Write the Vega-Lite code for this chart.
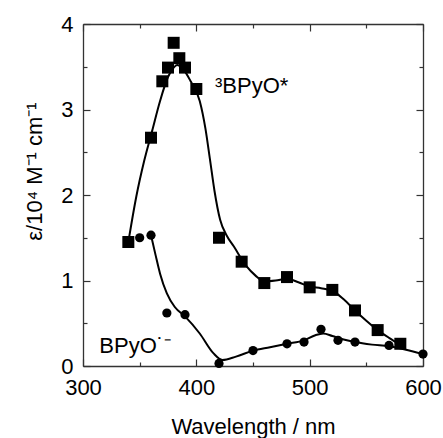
{
  "$schema": "https://vega.github.io/schema/vega-lite/v6.json",
  "width": 340,
  "height": 342,
  "autosize": "none",
  "padding": {"left": 83, "top": 24, "right": 20, "bottom": 72},
  "background": "white",
  "config": {
    "font": "Liberation Sans",
    "view": {"stroke": null},
    "axis": {
      "grid": false,
      "domainColor": "#333333",
      "domainWidth": 1.3,
      "tickColor": "#333333",
      "tickWidth": 1.2,
      "labelFont": "Liberation Sans",
      "labelFontSize": 22,
      "labelColor": "black",
      "labelFlush": false,
      "labelOverlap": false,
      "titleFont": "Liberation Sans",
      "titleFontSize": 22,
      "titleFontWeight": "normal",
      "titleColor": "black"
    }
  },
  "datasets": {
    "squares": [
      {"wl": 340, "eps": 1.45},
      {"wl": 360, "eps": 2.67},
      {"wl": 370, "eps": 3.33},
      {"wl": 375, "eps": 3.49},
      {"wl": 380, "eps": 3.78},
      {"wl": 385, "eps": 3.60},
      {"wl": 390, "eps": 3.49},
      {"wl": 400, "eps": 3.24},
      {"wl": 420, "eps": 1.50},
      {"wl": 440, "eps": 1.22},
      {"wl": 460, "eps": 0.97},
      {"wl": 480, "eps": 1.04},
      {"wl": 500, "eps": 0.92},
      {"wl": 520, "eps": 0.89},
      {"wl": 540, "eps": 0.65},
      {"wl": 560, "eps": 0.42},
      {"wl": 580, "eps": 0.26}
    ],
    "circles": [
      {"wl": 350, "eps": 1.50},
      {"wl": 360, "eps": 1.53},
      {"wl": 374, "eps": 0.62},
      {"wl": 390, "eps": 0.60},
      {"wl": 420, "eps": 0.03},
      {"wl": 450, "eps": 0.18},
      {"wl": 480, "eps": 0.26},
      {"wl": 495, "eps": 0.28},
      {"wl": 510, "eps": 0.43},
      {"wl": 525, "eps": 0.30},
      {"wl": 540, "eps": 0.28},
      {"wl": 570, "eps": 0.24},
      {"wl": 600, "eps": 0.14}
    ],
    "squareFit": [
      {"wl": 340, "eps": 1.45},
      {"wl": 347, "eps": 1.98},
      {"wl": 354, "eps": 2.40},
      {"wl": 361, "eps": 2.75},
      {"wl": 368, "eps": 3.10},
      {"wl": 375, "eps": 3.38},
      {"wl": 380, "eps": 3.49},
      {"wl": 383, "eps": 3.52},
      {"wl": 388, "eps": 3.48},
      {"wl": 395, "eps": 3.33},
      {"wl": 403, "eps": 3.10},
      {"wl": 408, "eps": 2.78},
      {"wl": 412, "eps": 2.42},
      {"wl": 416, "eps": 2.05},
      {"wl": 421, "eps": 1.71},
      {"wl": 427, "eps": 1.52},
      {"wl": 433, "eps": 1.40},
      {"wl": 444, "eps": 1.17},
      {"wl": 452, "eps": 1.06},
      {"wl": 460, "eps": 0.99},
      {"wl": 470, "eps": 1.00},
      {"wl": 480, "eps": 1.02},
      {"wl": 490, "eps": 0.98},
      {"wl": 500, "eps": 0.93},
      {"wl": 510, "eps": 0.91},
      {"wl": 520, "eps": 0.88},
      {"wl": 530, "eps": 0.78},
      {"wl": 540, "eps": 0.65},
      {"wl": 550, "eps": 0.53},
      {"wl": 560, "eps": 0.42},
      {"wl": 570, "eps": 0.33},
      {"wl": 580, "eps": 0.25}
    ],
    "circleFit": [
      {"wl": 360, "eps": 1.53},
      {"wl": 364, "eps": 1.30},
      {"wl": 368, "eps": 1.08},
      {"wl": 374, "eps": 0.85},
      {"wl": 381, "eps": 0.69},
      {"wl": 390, "eps": 0.58},
      {"wl": 403, "eps": 0.38},
      {"wl": 415, "eps": 0.15},
      {"wl": 423, "eps": 0.07},
      {"wl": 435, "eps": 0.11},
      {"wl": 450, "eps": 0.18},
      {"wl": 465, "eps": 0.22},
      {"wl": 480, "eps": 0.26},
      {"wl": 495, "eps": 0.30},
      {"wl": 505, "eps": 0.36},
      {"wl": 512, "eps": 0.38},
      {"wl": 520, "eps": 0.35},
      {"wl": 530, "eps": 0.31},
      {"wl": 540, "eps": 0.28},
      {"wl": 555, "eps": 0.25},
      {"wl": 570, "eps": 0.23},
      {"wl": 585, "eps": 0.19},
      {"wl": 600, "eps": 0.14}
    ],
    "labels": [
      {"wl": 416.5, "eps": 3.19, "text": "³BPyO*"},
      {"wl": 314.4, "eps": 0.15, "text": "BPyO˙⁻"}
    ]
  },
  "layer": [
    {
      "data": {"name": "squareFit"},
      "mark": {"type": "line", "color": "black", "strokeWidth": 2, "interpolate": "monotone"},
      "encoding": {
        "x": {"field": "wl", "type": "quantitative", "scale": {"domain": [300, 600], "nice": false, "zero": false},
          "axis": {"orient": "bottom", "values": [300, 400, 500, 600], "tickSize": -7, "labelPadding": 18,
            "title": "Wavelength / nm", "titleY": 67, "titleBaseline": "alphabetic"}},
        "y": {"field": "eps", "type": "quantitative", "scale": {"domain": [0, 4], "nice": false, "zero": false},
          "axis": {"orient": "left", "values": [0, 1, 2, 3, 4], "tickSize": -7, "labelPadding": 17,
            "title": "ε/10⁴ M⁻¹ cm⁻¹", "titleX": -42, "titleY": 147, "titleBaseline": "alphabetic", "titleAlign": "center", "titleAngle": -90}}
      }
    },
    {
      "data": {"name": "circleFit"},
      "mark": {"type": "line", "color": "black", "strokeWidth": 2, "interpolate": "monotone"},
      "encoding": {
        "x": {"field": "wl", "type": "quantitative",
          "axis": {"orient": "bottom", "values": [350, 450, 550], "tickSize": -4, "labels": false, "domain": false, "title": null}},
        "y": {"field": "eps", "type": "quantitative",
          "axis": {"orient": "left", "values": [0.5, 1.5, 2.5, 3.5], "tickSize": -4, "labels": false, "domain": false, "title": null}}
      }
    },
    {
      "data": {"name": "squares"},
      "mark": {"type": "point", "shape": "square", "filled": true, "color": "black", "size": 144, "opacity": 1},
      "encoding": {
        "x": {"field": "wl", "type": "quantitative",
          "axis": {"orient": "top", "values": [300, 400, 500, 600], "tickSize": -7, "labels": false, "title": null}},
        "y": {"field": "eps", "type": "quantitative",
          "axis": {"orient": "right", "values": [0, 1, 2, 3, 4], "tickSize": -7, "labels": false, "title": null}}
      }
    },
    {
      "data": {"name": "circles"},
      "mark": {"type": "point", "shape": "circle", "filled": true, "color": "black", "size": 85, "opacity": 1},
      "encoding": {
        "x": {"field": "wl", "type": "quantitative",
          "axis": {"orient": "top", "values": [350, 450, 550], "tickSize": -4, "labels": false, "domain": false, "title": null}},
        "y": {"field": "eps", "type": "quantitative",
          "axis": {"orient": "right", "values": [0.5, 1.5, 2.5, 3.5], "tickSize": -4, "labels": false, "domain": false, "title": null}}
      }
    },
    {
      "data": {"name": "labels"},
      "mark": {"type": "text", "align": "left", "baseline": "alphabetic", "fontSize": 22, "font": "Liberation Sans", "color": "black"},
      "encoding": {
        "x": {"field": "wl", "type": "quantitative", "axis": null},
        "y": {"field": "eps", "type": "quantitative", "axis": null},
        "text": {"field": "text", "type": "nominal"}
      }
    }
  ],
  "resolve": {"axis": {"x": "independent", "y": "independent"}}
}
